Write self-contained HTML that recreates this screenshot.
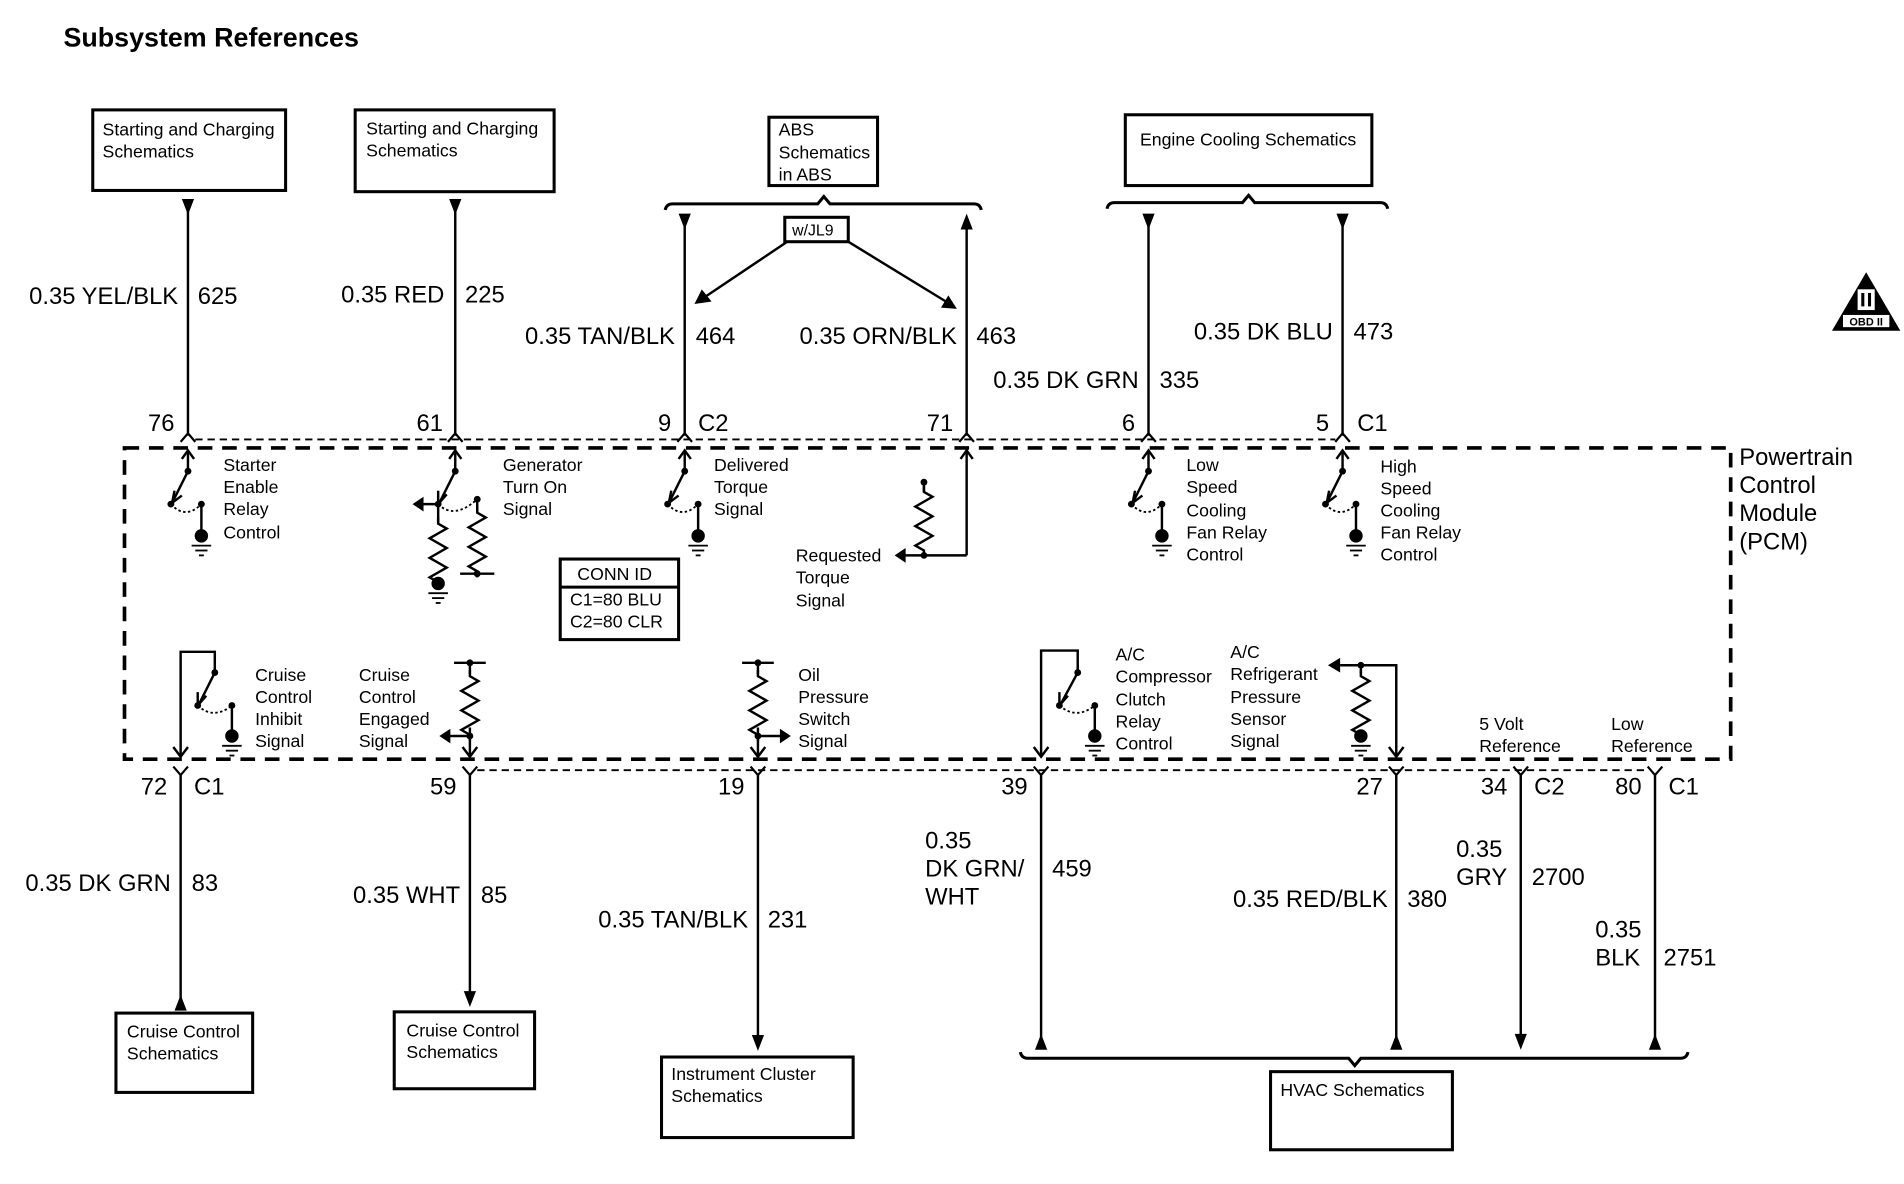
<!DOCTYPE html>
<html><head><meta charset="utf-8"><style>
html,body{margin:0;padding:0;background:#fff;width:1904px;height:1184px;overflow:hidden}
svg{display:block}
text{font-family:"Liberation Sans",Arial,sans-serif;fill:#000}
.t{font-size:14.5px}
.w{font-size:19.5px}
.b{font-size:15px}
</style></head><body>
<svg width="1904" height="1184" viewBox="0 0 1560 970" xmlns="http://www.w3.org/2000/svg">
<defs>
<g id="gnd"><circle cx="0" cy="0" r="5.5" fill="#000"/><line x1="-8" y1="8" x2="8" y2="8" stroke="#000" stroke-width="1.5"/><line x1="-5" y1="12" x2="5" y2="12" stroke="#000" stroke-width="1.5"/><line x1="-2" y1="16" x2="2" y2="16" stroke="#000" stroke-width="1.5"/></g>
<g id="sw" stroke="#000" stroke-width="2" fill="none">
<path d="M-5,8 L0,1 L5,8"/><line x1="0" y1="1" x2="0" y2="18"/>
<circle cx="0" cy="18" r="2.8" fill="#000" stroke="none"/>
<line x1="0" y1="18" x2="-13" y2="44"/><path d="M-11,34 L-13,44 L-5,38" />
<circle cx="-14" cy="45" r="2.8" fill="#000" stroke="none"/>
<path d="M-14,45 Q-2,58 11,45" stroke-dasharray="2,2" stroke-width="1.5"/>
<circle cx="11" cy="45" r="2.8" fill="#000" stroke="none"/>
<line x1="11" y1="45" x2="11" y2="66"/>
<use href="#gnd" x="11" y="71" stroke="none"/>
</g>
<path id="res" d="M0,0 l0,5 l7,4 l-14,8 l14,8 l-14,8 l14,8 l-14,8 l7,4 l0,5" fill="none" stroke="#000" stroke-width="2"/>
</defs>

<text x="52" y="38" style="font-size:22px;font-weight:bold">Subsystem References</text>

<g fill="none" stroke="#000" stroke-width="2.5">
<rect x="76" y="90" width="158" height="66"/>
<rect x="291" y="90" width="163" height="67"/>
<rect x="630" y="96" width="89" height="56"/>
<rect x="922" y="94" width="202" height="58"/>
<rect x="643" y="178" width="52" height="20"/>
<rect x="459" y="458" width="97" height="66"/>
<line x1="459" y1="481" x2="556" y2="481"/>
<rect x="95" y="830" width="112" height="65"/>
<rect x="323" y="829" width="115" height="63"/>
<rect x="542" y="866" width="157" height="66"/>
<rect x="1041" y="878" width="149" height="64"/>
</g>
<g class="t">
<text x="84" y="111">Starting and Charging</text><text x="84" y="129">Schematics</text>
<text x="300" y="110">Starting and Charging</text><text x="300" y="128">Schematics</text>
<text x="638" y="111">ABS</text><text x="638" y="130">Schematics</text><text x="638" y="148">in ABS</text>
<text x="934" y="119">Engine Cooling Schematics</text>
<text x="649" y="193" style="font-size:13px">w/JL9</text>
<text x="473" y="475">CONN ID</text><text x="467" y="496">C1=80 BLU</text><text x="467" y="514">C2=80 CLR</text>
<text x="104" y="850">Cruise Control</text><text x="104" y="868">Schematics</text>
<text x="333" y="849">Cruise Control</text><text x="333" y="867">Schematics</text>
<text x="550" y="885">Instrument Cluster</text><text x="550" y="903">Schematics</text>
<text x="1049" y="898">HVAC Schematics</text>
</g>

<g fill="none" stroke="#000" stroke-width="2.5">
<path d="M545,172 Q546,167 551,167 L670,167 L675,161 L680,167 L798,167 Q803,167 804,172"/>
<path d="M907,171 Q908,166 913,166 L1018,166 L1023,160 L1028,166 L1131,166 Q1136,166 1137,171"/>
<path d="M836,862 Q837,867 842,867 L1105,867 L1110,873 L1115,867 L1377,867 Q1382,867 1383,862"/>
</g>

<g stroke="#000" stroke-width="2">
<line x1="154" y1="168" x2="154" y2="357"/>
<line x1="373" y1="168" x2="373" y2="357"/>
<line x1="561" y1="180" x2="561" y2="357"/>
<line x1="792" y1="180" x2="792" y2="357"/>
<line x1="941" y1="180" x2="941" y2="357"/>
<line x1="1100" y1="180" x2="1100" y2="357"/>
<line x1="645" y1="198" x2="578" y2="243"/>
<line x1="695" y1="198" x2="775" y2="247"/>
</g>
<g fill="#000">
<polygon points="149,163 159,163 154,176"/>
<polygon points="368,163 378,163 373,176"/>
<polygon points="556,175 566,175 561,188"/>
<polygon points="787,188 797,188 792,175"/>
<polygon points="936,175 946,175 941,188"/>
<polygon points="1095,175 1105,175 1100,188"/>
<polygon points="569,249 575,237 583,247"/>
<polygon points="784,253 771,252 777,242"/>
</g>
<g class="w">
<text x="146" y="249" text-anchor="end">0.35 YEL/BLK</text><text x="162" y="249">625</text>
<text x="364" y="248" text-anchor="end">0.35 RED</text><text x="381" y="248">225</text>
<text x="553" y="282" text-anchor="end">0.35 TAN/BLK</text><text x="570" y="282">464</text>
<text x="784" y="282" text-anchor="end">0.35 ORN/BLK</text><text x="800" y="282">463</text>
<text x="933" y="318" text-anchor="end">0.35 DK GRN</text><text x="950" y="318">335</text>
<text x="1092" y="278" text-anchor="end">0.35 DK BLU</text><text x="1109" y="278">473</text>
<text x="143" y="353" text-anchor="end">76</text>
<text x="363" y="353" text-anchor="end">61</text>
<text x="550" y="353" text-anchor="end">9</text><text x="572" y="353">C2</text>
<text x="781" y="353" text-anchor="end">71</text>
<text x="930" y="353" text-anchor="end">6</text>
<text x="1089" y="353" text-anchor="end">5</text><text x="1112" y="353">C1</text>
</g>
<g fill="none" stroke="#000" stroke-width="1.8">
<path d="M148,362 L154,355 L160,362"/><path d="M367,362 L373,355 L379,362"/><path d="M555,362 L561,355 L567,362"/>
<path d="M786,362 L792,355 L798,362"/><path d="M935,362 L941,355 L947,362"/><path d="M1094,362 L1100,355 L1106,362"/>
<line x1="160" y1="360" x2="1094" y2="360" stroke-dasharray="6,4" stroke-width="1.5"/>
</g>

<rect x="102" y="367" width="1316" height="255" fill="none" stroke="#000" stroke-width="3" stroke-dasharray="12,8"/>
<g style="font-size:19.5px"><text x="1425" y="381">Powertrain</text><text x="1425" y="404">Control</text><text x="1425" y="427">Module</text><text x="1425" y="450">(PCM)</text></g>

<use href="#sw" x="154" y="368"/>
<use href="#sw" x="561" y="368"/>
<use href="#sw" x="941" y="368"/>
<use href="#sw" x="1100" y="368"/>
<g stroke="#000" stroke-width="2" fill="none">
<path d="M368,376 L373,369 L378,376"/><line x1="373" y1="369" x2="373" y2="386"/>
<line x1="373" y1="386" x2="360" y2="412"/><path d="M359,402 L359,413 L366,405"/>
<line x1="359" y1="413" x2="345" y2="413"/>
<path d="M359,413 Q372,426 391,409" stroke-dasharray="2,2" stroke-width="1.5"/>
<line x1="359" y1="413" x2="359" y2="428"/>
<line x1="391" y1="409" x2="391" y2="420"/>
<line x1="377" y1="470" x2="405" y2="470"/>
<line x1="792" y1="368" x2="792" y2="455"/><path d="M787,376 L792,369 L797,376"/>
<line x1="792" y1="455" x2="740" y2="455"/>
<line x1="757" y1="395" x2="757" y2="403"/>
</g>
<use href="#res" x="359" y="424"/>
<use href="#res" x="391" y="415"/>
<use href="#res" x="757" y="398"/>
<g fill="#000">
<circle cx="373" cy="386" r="2.8"/><circle cx="359" cy="413" r="2.8"/><circle cx="391" cy="409" r="2.8"/><circle cx="391" cy="470" r="2.8"/>
<polygon points="338,413 347,407 347,419"/>
<circle cx="757" cy="395" r="2.8"/><circle cx="757" cy="455" r="2.8"/>
<polygon points="733,455 742,449 742,461"/>
</g>
<use href="#gnd" x="359" y="478"/>
<g class="t">
<text x="183" y="386">Starter</text><text x="183" y="404">Enable</text><text x="183" y="422">Relay</text><text x="183" y="441">Control</text>
<text x="412" y="386">Generator</text><text x="412" y="404">Turn On</text><text x="412" y="422">Signal</text>
<text x="585" y="386">Delivered</text><text x="585" y="404">Torque</text><text x="585" y="422">Signal</text>
<text x="652" y="460">Requested</text><text x="652" y="478">Torque</text><text x="652" y="497">Signal</text>
<text x="972" y="386">Low</text><text x="972" y="404">Speed</text><text x="972" y="423">Cooling</text><text x="972" y="441">Fan Relay</text><text x="972" y="459">Control</text>
<text x="1131" y="387">High</text><text x="1131" y="405">Speed</text><text x="1131" y="423">Cooling</text><text x="1131" y="441">Fan Relay</text><text x="1131" y="459">Control</text>
</g>

<g stroke="#000" stroke-width="2" fill="none">
<path d="M148,620 L148,534 L176,534 L176,551 L163,577"/><path d="M142,612 L148,620 L154,612"/>
<path d="M162,567 L162,578 L169,570"/>
<path d="M162,578 Q175,590 190,578" stroke-dasharray="2,2" stroke-width="1.5"/><line x1="190" y1="578" x2="190" y2="598"/>
<line x1="372" y1="543" x2="398" y2="543"/><line x1="385" y1="543" x2="385" y2="552"/>
<line x1="385" y1="596" x2="385" y2="620"/><path d="M379,612 L385,620 L391,612"/><line x1="385" y1="603" x2="368" y2="603"/>
<line x1="608" y1="543" x2="634" y2="543"/><line x1="621" y1="543" x2="621" y2="552"/>
<line x1="621" y1="596" x2="621" y2="620"/><path d="M615,612 L621,620 L627,612"/><line x1="621" y1="603" x2="640" y2="603"/>
<path d="M853,620 L853,533 L883,533 L883,551 L869,577"/><path d="M847,612 L853,620 L859,612"/>
<path d="M868,567 L868,578 L875,570"/>
<path d="M868,578 Q882,590 897,578" stroke-dasharray="2,2" stroke-width="1.5"/><line x1="897" y1="578" x2="897" y2="598"/>
<path d="M1144,620 L1144,545 L1098,545"/><path d="M1138,612 L1144,620 L1150,612"/><line x1="1115" y1="545" x2="1115" y2="552"/>
</g>
<use href="#res" x="385" y="549"/>
<use href="#res" x="621" y="549"/>
<use href="#res" x="1115" y="549"/>
<g fill="#000">
<circle cx="176" cy="551" r="2.8"/><circle cx="162" cy="578" r="2.8"/><circle cx="190" cy="578" r="2.8"/>
<circle cx="385" cy="543" r="2.8"/><circle cx="385" cy="603" r="2.8"/><polygon points="360,603 369,597 369,609"/>
<circle cx="621" cy="543" r="2.8"/><circle cx="621" cy="603" r="2.8"/><polygon points="648,603 639,597 639,609"/>
<circle cx="883" cy="551" r="2.8"/><circle cx="868" cy="578" r="2.8"/><circle cx="897" cy="578" r="2.8"/>
<circle cx="1115" cy="545" r="2.8"/><polygon points="1088,545 1098,539 1098,551"/>
</g>
<use href="#gnd" x="190" y="603"/>
<use href="#gnd" x="897" y="603"/>
<use href="#gnd" x="1115" y="603"/>
<g class="t">
<text x="209" y="558">Cruise</text><text x="209" y="576">Control</text><text x="209" y="594">Inhibit</text><text x="209" y="612">Signal</text>
<text x="294" y="558">Cruise</text><text x="294" y="576">Control</text><text x="294" y="594">Engaged</text><text x="294" y="612">Signal</text>
<text x="654" y="558">Oil</text><text x="654" y="576">Pressure</text><text x="654" y="594">Switch</text><text x="654" y="612">Signal</text>
<text x="914" y="541">A/C</text><text x="914" y="559">Compressor</text><text x="914" y="578">Clutch</text><text x="914" y="596">Relay</text><text x="914" y="614">Control</text>
<text x="1008" y="539">A/C</text><text x="1008" y="557">Refrigerant</text><text x="1008" y="576">Pressure</text><text x="1008" y="594">Sensor</text><text x="1008" y="612">Signal</text>
<text x="1212" y="598">5 Volt</text><text x="1212" y="616">Reference</text>
<text x="1320" y="598">Low</text><text x="1320" y="616">Reference</text>
</g>

<g fill="none" stroke="#000" stroke-width="1.8">
<path d="M142,628 L148,635 L154,628"/><path d="M379,628 L385,635 L391,628"/><path d="M615,628 L621,635 L627,628"/>
<path d="M847,628 L853,635 L859,628"/><path d="M1138,628 L1144,635 L1150,628"/><path d="M1240,628 L1246,635 L1252,628"/><path d="M1350,628 L1356,635 L1362,628"/>
<line x1="391" y1="631" x2="1350" y2="631" stroke-dasharray="6,4" stroke-width="1.5"/>
</g>
<g stroke="#000" stroke-width="2">
<line x1="148" y1="635" x2="148" y2="820"/>
<line x1="385" y1="635" x2="385" y2="815"/>
<line x1="621" y1="635" x2="621" y2="850"/>
<line x1="853" y1="635" x2="853" y2="852"/>
<line x1="1144" y1="635" x2="1144" y2="852"/>
<line x1="1246" y1="635" x2="1246" y2="850"/>
<line x1="1356" y1="635" x2="1356" y2="852"/>
</g>
<g fill="#000">
<polygon points="143,828 153,828 148,815"/>
<polygon points="380,812 390,812 385,825"/>
<polygon points="616,848 626,848 621,861"/>
<polygon points="848,860 858,860 853,847"/>
<polygon points="1139,860 1149,860 1144,847"/>
<polygon points="1241,847 1251,847 1246,860"/>
<polygon points="1351,860 1361,860 1356,847"/>
</g>
<g class="w">
<text x="137" y="651" text-anchor="end">72</text><text x="159" y="651">C1</text>
<text x="374" y="651" text-anchor="end">59</text>
<text x="610" y="651" text-anchor="end">19</text>
<text x="842" y="651" text-anchor="end">39</text>
<text x="1133" y="651" text-anchor="end">27</text>
<text x="1235" y="651" text-anchor="end">34</text><text x="1257" y="651">C2</text>
<text x="1345" y="651" text-anchor="end">80</text><text x="1367" y="651">C1</text>
<text x="140" y="730" text-anchor="end">0.35 DK GRN</text><text x="157" y="730">83</text>
<text x="377" y="740" text-anchor="end">0.35 WHT</text><text x="394" y="740">85</text>
<text x="613" y="760" text-anchor="end">0.35 TAN/BLK</text><text x="629" y="760">231</text>
<text x="758" y="695">0.35</text><text x="758" y="718">DK GRN/</text><text x="758" y="741">WHT</text><text x="862" y="718">459</text>
<text x="1137" y="743" text-anchor="end">0.35 RED/BLK</text><text x="1153" y="743">380</text>
<text x="1193" y="702">0.35</text><text x="1193" y="725">GRY</text><text x="1255" y="725">2700</text>
<text x="1307" y="768">0.35</text><text x="1307" y="791">BLK</text><text x="1363" y="791">2751</text>
</g>

<polygon points="1529,223 1557,271 1501,271" fill="#000"/>
<rect x="1522" y="237" width="14" height="17" fill="#fff"/>
<rect x="1525" y="240" width="2.5" height="11" fill="#000"/><rect x="1530.5" y="240" width="2.5" height="11" fill="#000"/>
<rect x="1510" y="258" width="38" height="10" fill="#fff"/>
<text x="1529" y="266.5" text-anchor="middle" style="font-size:9px;font-weight:bold">OBD II</text>
</svg>
</body></html>
